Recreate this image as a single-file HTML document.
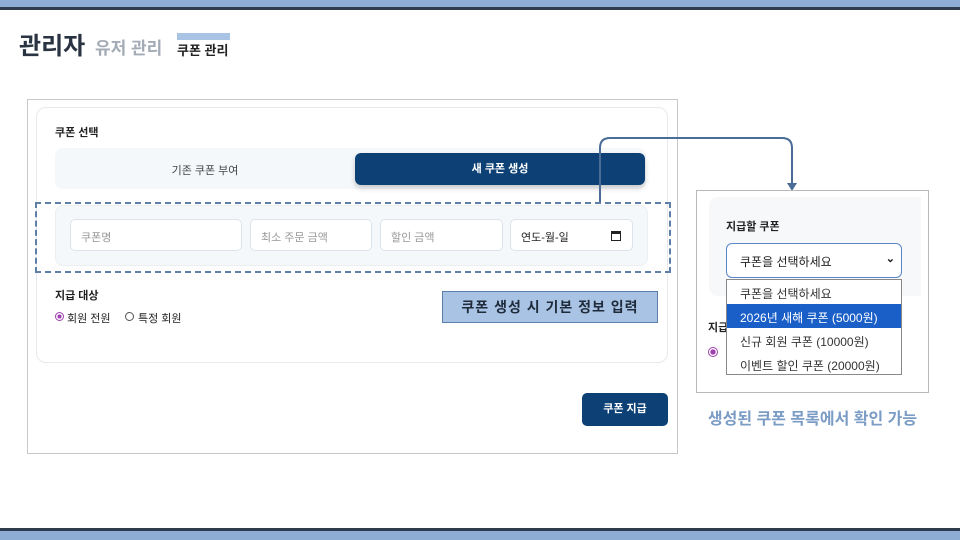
<!DOCTYPE html>
<html><head><meta charset="utf-8"><style>
*{margin:0;padding:0;box-sizing:border-box}
body{width:960px;height:540px;position:relative;background:#fff;font-family:"Liberation Sans","Noto Sans CJK KR",sans-serif;overflow:hidden;color:#222}
.a{position:absolute}
.inp{position:absolute;top:219px;height:32px;border:1px solid #dde3ea;border-radius:5px;background:#fff;font-size:11px;color:#999;padding:9px 10px}
.opt{position:absolute;left:0;width:100%;height:24px;font-size:12px;padding:5px 13px;color:#333}
</style></head><body>
<div class="a" style="left:0;top:0;width:960px;height:7px;background:#8eadd4"></div>
<div class="a" style="left:0;top:7px;width:960px;height:3px;background:#2e3c4e"></div>
<div class="a" style="left:0;top:528px;width:960px;height:3px;background:#2e3c4e"></div>
<div class="a" style="left:0;top:531px;width:960px;height:9px;background:#8eadd4"></div>

<div class="a" style="left:19px;top:26px;font-size:24px;font-weight:bold;color:#2a3342">관리자</div>
<div class="a" style="left:95px;top:34px;font-size:17px;font-weight:bold;color:#a3abb6">유저 관리</div>
<div class="a" style="left:177px;top:33px;width:53px;height:7px;background:#a8c3e3"></div>
<div class="a" style="left:177px;top:40px;font-size:13px;font-weight:bold;color:#222">쿠폰 관리</div>

<div class="a" style="left:27px;top:99px;width:651px;height:355px;border:1px solid #c8c8c8"></div>
<div class="a" style="left:36px;top:107px;width:632px;height:256px;border:1px solid #e6e9ed;border-radius:10px"></div>
<div class="a" style="left:55px;top:124px;font-size:11px;font-weight:bold">쿠폰 선택</div>
<div class="a" style="left:55px;top:148px;width:591px;height:41px;background:#f5f8fa;border-radius:8px"></div>
<div class="a" style="left:55px;top:162px;width:300px;text-align:center;font-size:11px;color:#444">기존 쿠폰 부여</div>
<div class="a" style="left:355px;top:153px;width:290px;height:32px;background:#0d4175;border-radius:6px;box-shadow:0 3px 6px rgba(0,0,0,.2);color:#fff;font-size:11px;font-weight:bold;text-align:center;line-height:32px">새 쿠폰 생성</div>

<div class="a" style="left:55px;top:205px;width:593px;height:61px;background:#f5f8fa;border:1px solid #eceff2;border-radius:8px"></div>
<div class="inp" style="left:70px;width:172px">쿠폰명</div>
<div class="inp" style="left:250px;width:122px">최소 주문 금액</div>
<div class="inp" style="left:380px;width:123px">할인 금액</div>
<div class="inp" style="left:510px;width:123px;color:#222">연도-월-일<span style="position:absolute;right:11px;top:11px;width:10px;height:10px;border:1.5px solid #222;border-top-width:3px"></span></div>
<div class="a" style="left:35px;top:202px;width:636px;height:71px;border:2px dashed #5d7fa8"></div>

<div class="a" style="left:55px;top:287px;font-size:11px;font-weight:bold">지급 대상</div>
<div class="a" style="left:55px;top:312px;width:9px;height:9px;border-radius:50%;border:1px solid #a040b0;background:radial-gradient(#a040b0 40%,#fff 45%)"></div>
<div class="a" style="left:67px;top:310px;font-size:11px">회원 전원</div>
<div class="a" style="left:125px;top:312px;width:9px;height:9px;border-radius:50%;border:1px solid #555"></div>
<div class="a" style="left:138px;top:310px;font-size:11px">특정 회원</div>

<div class="a" style="left:442px;top:291px;width:216px;height:32px;background:#a8c3e3;border:1px solid #5a7fa8;font-size:14px;font-weight:bold;color:#1f2a3a;text-align:center;line-height:30px;letter-spacing:1px">쿠폰 생성 시 기본 정보 입력</div>

<div class="a" style="left:582px;top:393px;width:86px;height:33px;background:#0d4175;border-radius:5px;color:#fff;font-size:11px;font-weight:bold;text-align:center;line-height:33px">쿠폰 지급</div>

<svg class="a" style="left:0;top:0" width="960" height="540">
<path d="M600 202 V148 Q600 138 610 138 H782 Q792 138 792 148 V184" fill="none" stroke="#4a6c96" stroke-width="2"/>
<path d="M787 183 L797 183 L792 191 Z" fill="#4a6c96"/>
</svg>

<div class="a" style="left:696px;top:190px;width:233px;height:203px;border:1px solid #b8b8b8"></div>
<div class="a" style="left:709px;top:197px;width:212px;height:99px;background:#f7f8fa;border-radius:8px 0 0 8px"></div>
<div class="a" style="left:726px;top:218px;font-size:11px;font-weight:bold">지급할 쿠폰</div>
<div class="a" style="left:726px;top:243px;width:176px;height:35px;border:1.5px solid #5a86c8;border-radius:6px;background:#fff;font-size:12px;padding:9px 13px">쿠폰을 선택하세요<span style="position:absolute;right:6px;top:8px;font-size:11px;font-weight:bold">⌄</span></div>
<div class="a" style="left:708px;top:319px;font-size:11px;font-weight:bold">지급</div>
<div class="a" style="left:708px;top:347px;width:10px;height:10px;border-radius:50%;border:1px solid #a040b0;background:radial-gradient(#a040b0 45%,#fff 50%)"></div>
<div class="a" style="left:726px;top:279px;width:176px;height:96px;border:1px solid #888;background:#fff">
<div class="opt" style="top:0">쿠폰을 선택하세요</div>
<div class="opt" style="top:24px;background:#1a5fc8;color:#fff">2026년 새해 쿠폰 (5000원)</div>
<div class="opt" style="top:48px">신규 회원 쿠폰 (10000원)</div>
<div class="opt" style="top:72px">이벤트 할인 쿠폰 (20000원)</div>
</div>
<div class="a" style="left:700px;top:405px;width:225px;text-align:center;font-size:16px;font-weight:bold;color:#7b9cc5">생성된 쿠폰 목록에서 확인 가능</div>
</body></html>
